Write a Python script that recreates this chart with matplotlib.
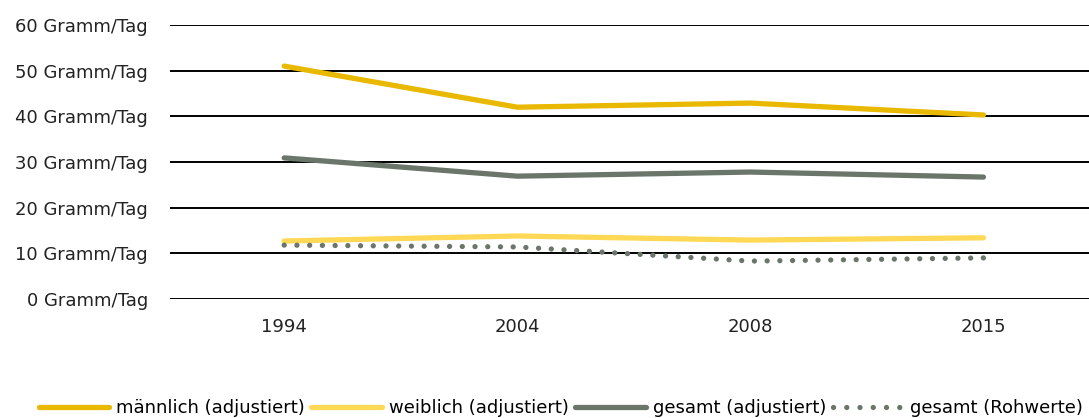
import matplotlib
matplotlib.use("Agg")
import matplotlib.pyplot as plt
from matplotlib.lines import Line2D

years = ["1994", "2004", "2008", "2015"]
maennlich = [51.0, 42.0, 42.9, 40.3]
weiblich = [12.7, 13.8, 12.9, 13.4]
gesamt = [30.9, 26.9, 27.8, 26.7]
gesamt_roh = [11.8, 11.4, 8.3, 9.0]
yticks = [0, 10, 20, 30, 40, 50, 60]
ytick_labels = [f"{v} Gramm/Tag" for v in yticks]
legend_labels = ["männlich (adjustiert)", "weiblich (adjustiert)",
                 "gesamt (adjustiert)", "gesamt (Rohwerte)"]

c_m = "#E9B800"
c_w = "#FFD955"
c_g = "#6B766B"

fig = plt.figure(figsize=(10.89, 4.18), dpi=100)
ax = fig.add_axes([170/1089, 1 - 299/418, (1100-170)/1089, (299-25)/418])
x = list(range(len(years)))
ax.plot(x, maennlich, color=c_m, lw=3.8, solid_capstyle="round", zorder=3)
ax.plot(x, weiblich, color=c_w, lw=3.8, solid_capstyle="round", zorder=3)
ax.plot(x, gesamt, color=c_g, lw=3.8, solid_capstyle="round", zorder=3)
ax.plot(x, gesamt_roh, color=c_g, lw=3.8, linestyle=(0, (0.01, 2.4)),
        dash_capstyle="round", zorder=3)

ax.set_xlim(-0.49, 3.5)
ax.set_ylim(0, 60)
ax.set_yticks(yticks)
ax.set_yticklabels(ytick_labels)
ax.set_xticks(x)
ax.set_xticklabels(years)
ax.yaxis.grid(True, color="black", lw=1.4)
ax.set_axisbelow(True)
for s in ax.spines.values():
    s.set_visible(False)
ax.tick_params(axis="both", length=0, labelsize=13, colors="#222222")
ax.tick_params(axis="y", pad=16)
ax.tick_params(axis="x", pad=14)

handles = [
    Line2D([], [], color=c_m, lw=3.8, solid_capstyle="round"),
    Line2D([], [], color=c_w, lw=3.8, solid_capstyle="round"),
    Line2D([], [], color=c_g, lw=3.8, solid_capstyle="round"),
    Line2D([], [], color=c_g, lw=3.8, linestyle=(0, (0.01, 2.5)), dash_capstyle="round"),
]
fig.legend(handles, legend_labels, loc="center", bbox_to_anchor=(0.515, 1 - 408/418),
           ncol=4, frameon=False, handlelength=3.9, handletextpad=0.4,
           columnspacing=0.35, prop={"size": 13})

fig.savefig("out.png", dpi=100)
